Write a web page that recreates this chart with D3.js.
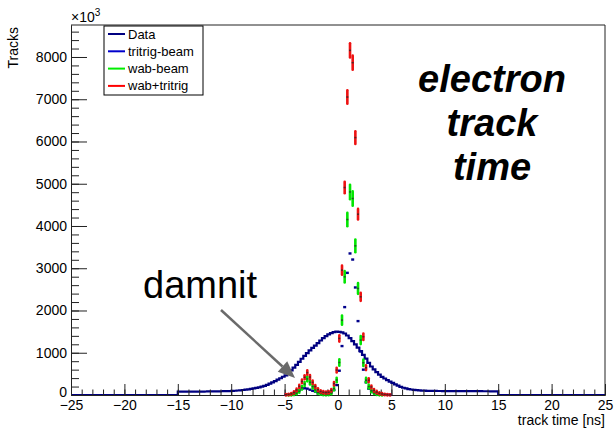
<!DOCTYPE html>
<html><head><meta charset="utf-8">
<script src="https://cdn.jsdelivr.net/npm/d3@7"></script>
<style>body{margin:0;background:#fff}svg{display:block}text{font-family:"Liberation Sans",Arial,Helvetica,sans-serif}</style>
</head><body>
<script>
// ---- data ----
// Data histogram: 0.25 ns bins from -15 to 15 (zero outside)
const dataStart = -15, dataBinWidth = 0.25;
const dataValues = [
 78,78,79,79,80,80,81,81,82,82,83,84,85,86,87,88,89,90,92,94,
 97,101,106,111,118,126,134,144,155,168,182,198,216,240,268,298,330,362,396,432,
 465,520,585,648,715,785,858,925,990,1055,1115,1170,1228,1290,1345,1395,1435,1465,1488,1498,
 1496,1482,1455,1408,1345,1275,1200,1120,1040,950,860,760,675,605,540,480,430,390,350,318,
 285,252,222,192,172,155,141,130,121,114,109,105,102,100,98,97,96,95,95,94,
 94,94,93,93,93,92,92,92,91,91,91,90,90,90,89,89,89,88,88,88];
// marker bins (centres, ns)
const markerBins = [-4.875,-4.625,-4.375,-4.125,-3.875,-3.625,-3.375,-3.125,-2.875,-2.625,
 -2.375,-2.125,-1.875,-1.625,-1.375,-1.125,-0.875,-0.625,-0.375,-0.125,
 0.125,0.375,0.625,0.875,1.125,1.375,1.625,1.875,2.125,2.375,
 2.625,2.875,3.125,3.375,3.625,3.875,4.125,4.375,4.625,4.875];
const tritrigBeam = [5,10,20,40,75,115,150,160,150,125,100,80,65,55,50,48,50,65,118,235,
 575,1158,2080,2891,3350,3206,2545,1749,1030,600,300,150,90,60,45,30,20,12,6,3];
const wabBeam = [0,3,8,20,45,90,170,260,380,300,200,120,60,30,15,10,15,45,150,355,
 770,1773,2797,4153,4806,4650,3530,2521,1300,763,350,200,100,50,25,12,5,0,0,0];
const wabBeamErr = [0,4,7,10,15,22,30,37,45,40,33,25,18,13,9,7,9,15,28,43,
 64,97,122,148,159,157,137,115,83,64,43,33,23,16,12,8,5,0,0,0];
const wabTritrig = [5,13,28,60,120,205,320,420,530,425,300,200,125,85,65,58,65,110,268,590,
 1340,2955,4910,7052,8156,7865,6092,4279,2324,1379,645,350,190,110,70,42,25,12,6,3];
const wabTritrigErr = [4,6,9,14,19,25,31,36,40,36,30,25,20,16,14,13,14,18,29,43,
 64,95,123,147,158,155,137,114,84,65,44,33,24,18,15,11,9,6,4,3];
const xMajorTicks = [-25,-20,-15,-10,-5,0,5,10,15,20,25];
const yMajorTicks = [0,1000,2000,3000,4000,5000,6000,7000,8000];
const legendNames = ["Data","tritrig-beam","wab-beam","wab+tritrig"];
const legendColors = ["#000080","#0000cc","#00ee00","#ff0000"];
const titleLines = ["electron","track","time"];

// ---- drawing ----
const W = 614, H = 428;
const svg = d3.select("body").append("svg").attr("width", W).attr("height", H);
const x = d3.scaleLinear().domain([-25, 25]).range([71, 605]);
const y = d3.scaleLinear().domain([0, 8757]).range([395, 25]);

// Data histogram as step path
const pts = [[-25, 0], [dataStart, 0]];
dataValues.forEach((v, i) => {
  const lo = dataStart + i * dataBinWidth, hi = lo + dataBinWidth;
  pts.push([lo, v], [hi, v]);
});
const dataEnd = dataStart + dataValues.length * dataBinWidth;
pts.push([dataEnd, 0], [25, 0]);
svg.append("path")
  .attr("d", d3.line().x(d => x(d[0])).y(d => y(d[1]))(pts))
  .attr("fill", "none").attr("stroke", "#000080").attr("stroke-width", 2.2);

// axes
const gx = svg.append("g").attr("transform", "translate(0,395)");
gx.call(d3.axisBottom(x).tickValues(d3.range(-25, 26, 1)).tickSize(-5.5).tickSizeOuter(0).tickFormat(""));
gx.call(g => g.selectAll(".tick line").attr("stroke", "#222"));
const gx2 = svg.append("g").attr("transform", "translate(0,395)");
gx2.call(d3.axisBottom(x).tickValues(xMajorTicks).tickSize(-11).tickSizeOuter(0).tickPadding(5)
  .tickFormat(d => (d < 0 ? "\u2212" + Math.abs(d) : String(d))));
gx2.selectAll("text").attr("font-size", 14).attr("fill", "#000");
gx2.selectAll(".tick line").attr("stroke", "#222");
gx2.select(".domain").attr("stroke", "#222");

const gy = svg.append("g").attr("transform", "translate(71,0)");
gy.call(d3.axisLeft(y).tickValues(d3.range(0, 8800, 200)).tickSize(-8).tickSizeOuter(0).tickFormat(""));
gy.selectAll(".tick line").attr("stroke", "#222");
const gy2 = svg.append("g").attr("transform", "translate(71,0)");
gy2.call(d3.axisLeft(y).tickValues(yMajorTicks).tickSize(-16).tickSizeOuter(0).tickPadding(4).tickFormat(d => String(d)));
gy2.selectAll("text").attr("font-size", 14).attr("fill", "#000");
gy2.selectAll(".tick").filter(d => d === 0).select("text").attr("dy", "0.1em");
gy2.selectAll(".tick line").attr("stroke", "#222");
gy2.select(".domain").attr("stroke", "#222");

// frame edges
svg.append("line").attr("x1", 605).attr("x2", 605).attr("y1", 25).attr("y2", 395).attr("stroke", "#222");
svg.append("line").attr("x1", 71).attr("x2", 605).attr("y1", 25).attr("y2", 25).attr("stroke", "#222");

// axis titles
svg.append("text").attr("x", 605).attr("y", 425).attr("text-anchor", "end").attr("font-size", 14).text("track time [ns]");
svg.append("text").attr("transform", "translate(18,27) rotate(-90)").attr("text-anchor", "end").attr("font-size", 14).text("Tracks");
const ex = svg.append("text").attr("x", 71).attr("y", 22).attr("font-size", 14);
ex.append("tspan").text("\u00d710");
ex.append("tspan").attr("font-size", 10).attr("dy", -6).text("3");

// markers
function errorSeries(vals, errs, color, dark) {
  const g = svg.append("g");
  vals.forEach((v, i) => {
    if (v <= 0) return;
    const cx = x(markerBins[i]);
    g.append("line").attr("x1", cx).attr("x2", cx)
      .attr("y1", y(v - errs[i]) + 0.5).attr("y2", y(v + errs[i]) - 0.5)
      .attr("stroke", color).attr("stroke-width", 2.6).attr("stroke-linecap", "round");
    g.append("rect").attr("x", cx - 1).attr("y", y(v) - 0.75).attr("width", 2).attr("height", 1.5).attr("fill", dark);
  });
}
const gb = svg.append("g");
tritrigBeam.forEach((v, i) => {
  if (v <= 0) return;
  gb.append("rect").attr("x", x(markerBins[i]) - 1.5).attr("y", y(v) - 1.2).attr("width", 3).attr("height", 2.4).attr("fill", "#00008b");
});
errorSeries(wabBeam, wabBeamErr, "#00e600", "#225522");
errorSeries(wabTritrig, wabTritrigErr, "#ee1111", "#552222");

// legend
const lg = svg.append("g");
lg.append("rect").attr("x", 104).attr("y", 26).attr("width", 99).attr("height", 69).attr("fill", "#fff").attr("stroke", "#000").attr("stroke-width", 1);
legendNames.forEach((n, i) => {
  const ly = 34 + i * 17.3;
  lg.append("line").attr("x1", 108).attr("x2", 125).attr("y1", ly).attr("y2", ly).attr("stroke", legendColors[i]).attr("stroke-width", 2);
  lg.append("text").attr("x", 128).attr("y", ly + 4.5).attr("font-size", 13).text(n);
});

// title text
titleLines.forEach((t, i) => {
  svg.append("text").attr("x", 492).attr("y", 92 + i * 44).attr("text-anchor", "middle")
    .attr("font-size", 38).attr("font-weight", "bold").attr("font-style", "italic").text(t);
});

// annotation
svg.append("text").attr("x", 143).attr("y", 298).attr("font-size", 38).text("damnit");
const ax0 = 221, ay0 = 310, ax1 = 295, ay1 = 378;
const ang = Math.atan2(ay1 - ay0, ax1 - ax0), L = 17, Wd = 7;
const bx = ax1 - L * Math.cos(ang), by = ay1 - L * Math.sin(ang);
svg.append("line").attr("x1", ax0).attr("y1", ay0).attr("x2", bx).attr("y2", by).attr("stroke", "#6a6a6a").attr("stroke-width", 2.5);
svg.append("path").attr("d", `M${ax1},${ay1}L${bx - Wd * Math.sin(ang)},${by + Wd * Math.cos(ang)}L${bx + Wd * Math.sin(ang)},${by - Wd * Math.cos(ang)}Z`).attr("fill", "#6a6a6a");
</script>
</body></html>
